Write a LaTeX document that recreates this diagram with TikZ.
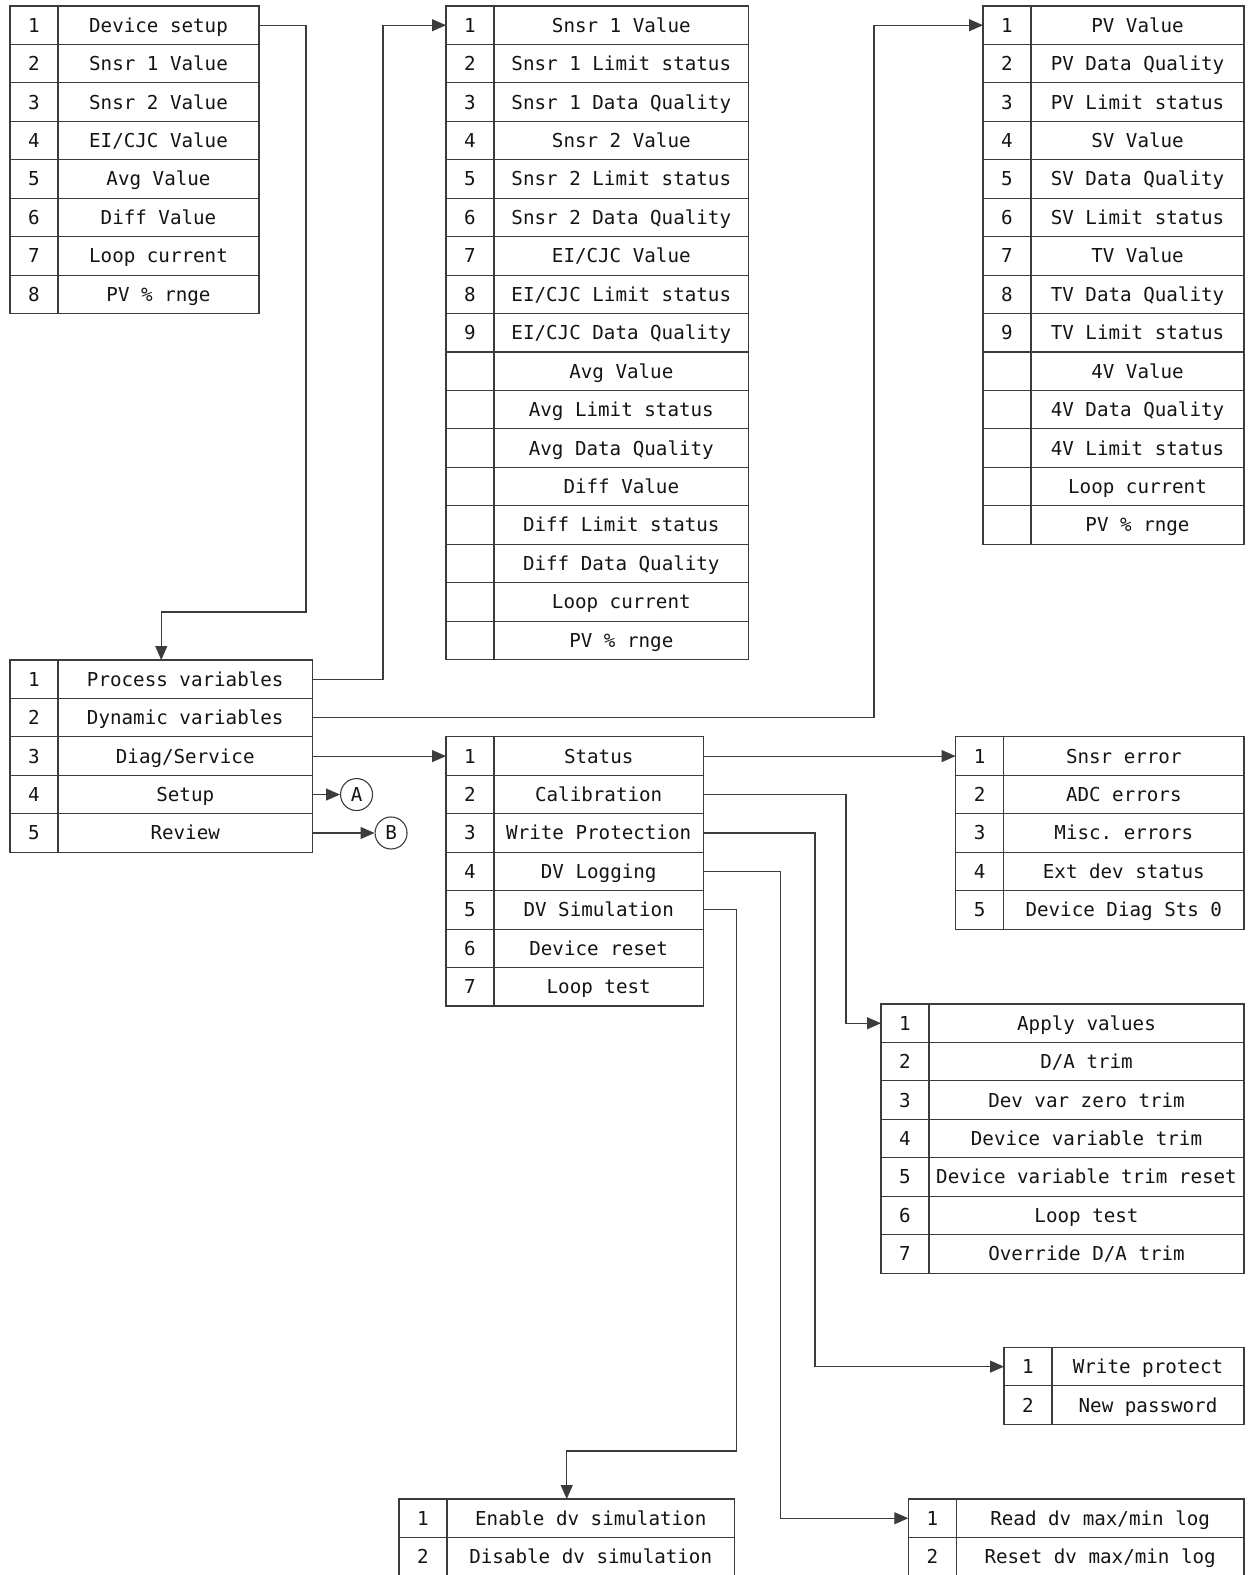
\documentclass[tikz,border=0pt]{standalone}
\usepackage{fontspec}
\setmonofont{DejaVu Sans Mono}
\usetikzlibrary{arrows.meta,positioning,calc}
\definecolor{mnLine}{RGB}{60,60,60}
\definecolor{mnText}{RGB}{20,20,20}
\tikzset{
    numcell/.style={
        draw=mnLine,line width=.55pt,anchor=north west,outer sep=0pt,
        minimum width=24pt,minimum height=19.22pt,inner sep=0pt,
        text height=8pt,text depth=1pt,font=\ttfamily\fontsize{9.6}{11}\selectfont,text=mnText
    },
    itemcell/.style={
        numcell,anchor=west,minimum width=#1
    },
    keycirc/.style={
        circle,draw=mnLine,line width=.55pt,minimum size=16pt,inner sep=0pt,
        font=\ttfamily\fontsize{9.6}{11}\selectfont,text=mnText
    },
    link/.style={
        -{Triangle[length=7pt,width=6pt]},line width=.55pt,draw=mnLine
    }
}
\newcommand\menutable[5]{%
  \foreach \txt [count=\i] in {#5} {
    \node[numcell] (#1-\i) at (#2,{#3+(\i-1)*38.44}) {\ifnum\i<10 \i\fi};
    \node[itemcell=#4,right=0pt of #1-\i] (#1L-\i) {\txt};
  }%
}
\begin{document}
\begin{tikzpicture}[x=.5pt,y=-.5pt]
\useasboundingbox (0,0) rectangle (1249,1575);

\menutable{setp}{10}{6}{100.5pt}{Device setup,Snsr 1 Value,Snsr 2 Value,EI/CJC Value,Avg Value,Diff Value,Loop current,PV \% rnge}

\menutable{onl}{10}{660}{127.25pt}{Process variables,Dynamic variables,Diag/Service,Setup,Review}

\menutable{pv}{446}{6}{127.3pt}{Snsr 1 Value,Snsr 1 Limit status,Snsr 1 Data Quality,Snsr 2 Value,Snsr 2 Limit status,Snsr 2 Data Quality,EI/CJC Value,EI/CJC Limit status,EI/CJC Data Quality,Avg Value,Avg Limit status,Avg Data Quality,Diff Value,Diff Limit status,Diff Data Quality,Loop current,PV \% rnge}

\menutable{dv}{983}{6}{106.5pt}{PV Value,PV Data Quality,PV Limit status,SV Value,SV Data Quality,SV Limit status,TV Value,TV Data Quality,TV Limit status,4V Value,4V Data Quality,4V Limit status,Loop current,PV \% rnge}

\menutable{dg}{446}{736.88}{104.7pt}{Status,Calibration,Write Protection,DV Logging,DV Simulation,Device reset,Loop test}

\menutable{sts}{955.6}{736.88}{120.2pt}{Snsr error,ADC errors,Misc. errors,Ext dev status,Device Diag Sts 0}

\menutable{cal}{881}{1004}{157.5pt}{Apply values,D/A trim,Dev var zero trim,Device variable trim,Device variable trim reset,Loop test,Override D/A trim}

\menutable{wp}{1004}{1347.4}{96pt}{Write protect,New password}

\menutable{sim}{399}{1499}{143.75pt}{Enable dv simulation,Disable dv simulation}

\menutable{log}{908.3}{1499}{143.85pt}{Read dv max/min log,Reset dv max/min log}

\node[keycirc,right=13.75pt of onlL-4] (keyA) {A};
\node[keycirc,right=31pt of onlL-5] (keyB) {B};

\coordinate (onlTop) at ($(onl-1.north west)!.5!(onlL-1.north east)$);
\coordinate (simTop) at ($(sim-1.north west)!.5!(simL-1.north east)$);

\draw[link] (setpL-1.east) -- ++(47,0) |- ([yshift=24pt]onlTop) -- (onlTop);
\draw[link] (onlL-1.east) -- ++(70.5,0) |- (pv-1.west);
\draw[link] (onlL-2.east) -- ++(561.5,0) |- (dv-1.west);
\draw[link] (onlL-3.east) -- (dg-1.west);
\draw[link] (onlL-4.east) -- (keyA);
\draw[link] (onlL-5.east) -- (keyB);
\draw[link] (dgL-1.east) -- (sts-1.west);
\draw[link] (dgL-2.east) -- ++(142.6,0) |- (cal-1.west);
\draw[link] (dgL-3.east) -- ++(111.6,0) |- (wp-1.west);
\draw[link] (dgL-4.east) -- ++(77.3,0) |- (log-1.west);
\draw[link] (dgL-5.east) -- ++(33,0) |- ([yshift=24pt]simTop) -- (simTop);

\end{tikzpicture}
\end{document}
